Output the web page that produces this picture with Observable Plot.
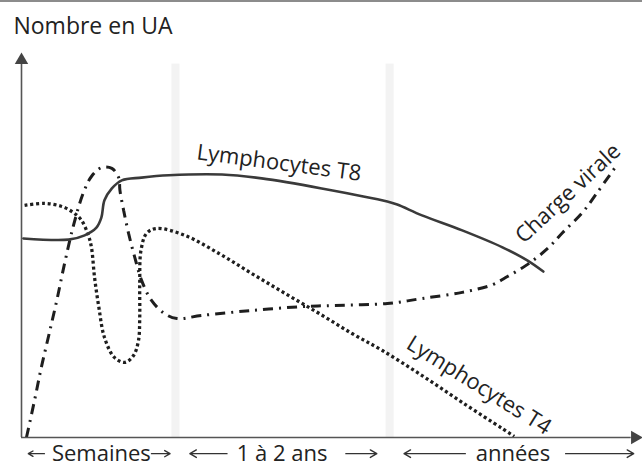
<!DOCTYPE html>
<html>
<head>
<meta charset="utf-8">
<script src="https://cdn.jsdelivr.net/npm/d3@7"></script>
<script src="https://cdn.jsdelivr.net/npm/@observablehq/plot@0.6"></script>
<style>
  html, body { margin: 0; padding: 0; background: #fff; }
  #wrap { position: relative; width: 642px; height: 466px; overflow: hidden; }
  #topline { position: absolute; left: 0; top: 0; width: 642px; height: 2px; background: #8c8c8c; }
</style>
</head>
<body>
<div id="wrap"><div id="topline"></div></div>
<script>
// Schematic units: x = time (0..100), y = "Nombre en UA" (0..100)
const t8X = [0.3, 7.6, 10.2, 12.1, 12.9, 13.4, 14.6, 16.2, 19.4, 23.8, 32.4, 38.8, 48.5, 59.1, 60.7, 64.7, 71.2, 77.7, 81.7, 84.3];
const t8Y = [51.7, 51.4, 52.5, 54.5, 57.1, 61.6, 64.7, 66.8, 67.5, 68.1, 68.3, 67.3, 64.7, 61.3, 60.5, 57.7, 53.8, 49.4, 46.0, 43.1];

const t4X = [0.5, 3.7, 6.5, 8.4, 9.7, 10.8, 11.3, 11.8, 12.5, 13.4, 15.0, 16.7, 18.1, 18.9, 19.1, 19.1, 19.3, 20.2, 21.8, 26.4, 31.9, 37.2, 42.6, 48.1, 53.4, 58.3, 64.7, 71.2, 77.7, 79.6];
const t4Y = [60.3, 60.8, 60.0, 58.4, 56.4, 52.5, 49.4, 41.6, 33.8, 26.0, 20.8, 19.5, 21.3, 25.2, 31.2, 40.0, 48.6, 53.0, 54.3, 52.5, 47.8, 42.6, 37.4, 32.2, 27.0, 22.6, 16.1, 9.1, 2.3, 0.3];

const cvX = [0.8, 2.1, 3.2, 4.4, 5.7, 7.0, 8.4, 10.0, 11.3, 12.9, 14.6, 15.7, 15.9, 16.5, 17.3, 18.3, 19.4, 21.0, 23.1, 25.1, 29.1, 37.2, 45.3, 50.6, 59.1, 64.7, 71.2, 76.1, 78.5, 81.7, 85.0, 87.4, 90.6, 93.0, 95.8];
const cvY = [0, 9.6, 18.2, 26.5, 35.6, 45.5, 55.1, 63.6, 67.8, 70.1, 69.9, 67.5, 64.2, 59.0, 53.0, 46.8, 40.8, 35.6, 32.2, 30.9, 31.7, 33.0, 34.0, 34.3, 34.8, 36.1, 37.7, 39.7, 41.8, 44.9, 49.1, 53.2, 58.4, 63.6, 69.9];

// light vertical bands separating the phases
const bandStart = [24.3, 58.9];
const bandEnd = [25.6, 60.2];

// curve labels
const curveLabels = ["Lymphocytes T8", "Charge virale", "Lymphocytes T4"];
const curveLabelX = [41.6, 88.3, 73.9];
const curveLabelY = [71.3, 63.4, 13.5];
const curveLabelRot = [7.5, -43, 32];

// period labels under the time axis
const periodLabels = ["Semaines", "1 à 2 ans", "années"];
const periodX = [12.9, 42.1, 79.4];
const periodY = -4.2;
// period arrows (from, to)
const periodArrowFrom = [3.7, 21.0, 33.2, 52.4, 71.7, 87.9];
const periodArrowTo   = [1.1, 24.0, 27.2, 57.4, 61.8, 98.9];

const yTitle = "Nombre en UA";

const pts = (xs, ys) => xs.map((x, i) => ({x, y: ys[i]}));
const t8 = pts(t8X, t8Y);
const t4 = pts(t4X, t4Y);
const cv = pts(cvX, cvY);
const bands = bandStart.map((s, i) => ({x1: s, x2: bandEnd[i]}));
const labels = curveLabels.map((t, i) => ({t, x: curveLabelX[i], y: curveLabelY[i], r: curveLabelRot[i]}));
const periods = periodLabels.map((t, i) => ({t, x: periodX[i], y: periodY}));
const arrows = periodArrowFrom.map((a, i) => ({x1: a, x2: periodArrowTo[i], y: periodY}));

const ink = "#222";
const font = "Open Sans";

const chart = Plot.plot({
  width: 642,
  height: 466,
  marginLeft: 21,
  marginRight: 2,
  marginTop: 52,
  marginBottom: 29,
  x: {domain: [0, 100], axis: null},
  y: {domain: [0, 100], axis: null},
  style: {fontFamily: font, background: "transparent", overflow: "visible", color: ink},
  marks: [
    Plot.rect(bands, {x1: "x1", x2: "x2", y1: 0, y2: 97, fill: "#f3f3f3"}),
    Plot.line(cv, {x: "x", y: "y", curve: "catmull-rom", stroke: "#1e1e1e", strokeWidth: 3, strokeDasharray: "10,6,2,6", strokeLinecap: "butt", strokeLinejoin: "miter"}),
    Plot.line(t4, {x: "x", y: "y", curve: "catmull-rom", stroke: "#1e1e1e", strokeWidth: 3.3, strokeDasharray: "3,2.8", strokeLinecap: "butt", strokeLinejoin: "miter"}),
    Plot.line(t8, {x: "x", y: "y", curve: "catmull-rom", stroke: "#3a3a3a", strokeWidth: 2.6}),
    // axes with arrow heads
    Plot.ruleX([0], {y1: 0, y2: 97, stroke: "#555", strokeWidth: 1.6}),
    Plot.ruleY([0], {x1: 0, x2: 98.5, stroke: "#555", strokeWidth: 1.6}),
    Plot.dot([{x: 0, y: 98}], {x: "x", y: "y", symbol: "triangle", r: 5, fill: "#444", stroke: null}),
    Plot.dot([{x: 99.1, y: 0}], {x: "x", y: "y", symbol: "triangle", r: 5, rotate: 90, fill: "#444", stroke: null}),
    // y title
    Plot.text([yTitle], {x: -1.3, y: 104.7, text: d => d, textAnchor: "start", lineAnchor: "bottom", fontSize: 23, fill: ink}),
    // curve labels
    Plot.text(labels, {x: "x", y: "y", text: "t", rotate: "r", textAnchor: "middle", lineAnchor: "middle", fontSize: 22, fill: ink}),
    // period labels
    Plot.text(periods, {x: "x", y: "y", text: "t", textAnchor: "middle", lineAnchor: "middle", fontSize: 22, fill: ink}),
    Plot.arrow(arrows, {x1: "x1", x2: "x2", y1: "y", y2: "y", headLength: 8, strokeWidth: 1.4, stroke: "#333"})
  ]
});
document.getElementById("wrap").appendChild(chart);
</script>
</body>
</html>
